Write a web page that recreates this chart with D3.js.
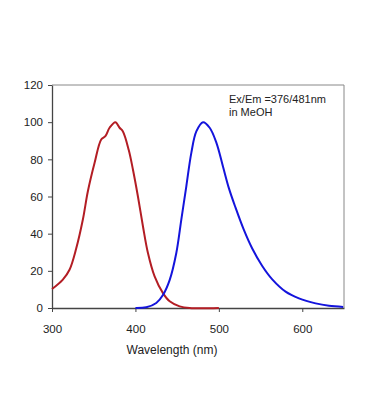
<!DOCTYPE html>
<html>
<head>
<meta charset="utf-8">
<script src="https://cdn.jsdelivr.net/npm/d3@7"></script>
<style>
  body { margin: 0; background: #fff; }
  text { font-family: "Liberation Sans", Arial, sans-serif; fill: #222; }
</style>
</head>
<body>
<svg id="chart"></svg>
<script>
// excitation spectrum (red)
const exWl  = [300, 313, 321, 329, 337, 343, 351, 359, 364, 369, 376, 381, 385, 392, 397, 403, 409, 415, 423, 433, 441, 453, 465, 500];
const exVal = [10.2, 15.3, 20.6, 32, 47.6, 62.8, 78, 90.7, 92.5, 97, 100, 97, 95, 85, 74.5, 60, 44, 29.6, 17, 8, 3.6, 0.9, 0, 0];
// emission spectrum (blue)
const emWl  = [400, 413, 425, 433, 441, 449, 455, 461, 467, 473, 481, 489, 497, 505, 512, 520, 530, 540, 552, 564, 580, 596, 616, 632, 649];
const emVal = [0, 0.4, 2.7, 7, 15, 29.6, 47.6, 65.5, 83.5, 95, 100, 97, 89, 76, 64.5, 54, 42, 32, 22.6, 15.4, 8.8, 5.2, 2.5, 1.2, 0.6];
const xTicks = [300, 400, 500, 600];
const yTicks = [0, 20, 40, 60, 80, 100, 120];
const note = ["Ex/Em =376/481nm", "in MeOH"];

const W = 370, H = 419;
const svg = d3.select("#chart").attr("width", W).attr("height", H);

const x = d3.scaleLinear().domain([300, 650]).range([52, 344]);
const y = d3.scaleLinear().domain([0, 120]).range([308, 85]);

// plot frame (top/right)
svg.append("path")
  .attr("d", `M${x(300)},${y(120)} H${x(650)} V${y(0)}`)
  .attr("fill", "none").attr("stroke", "#888").attr("stroke-width", 1);

const xAxis = svg.append("g").attr("transform", `translate(0,${y(0)})`)
  .call(d3.axisBottom(x).tickValues(xTicks).tickSize(4).tickSizeOuter(0));
const yAxis = svg.append("g").attr("transform", `translate(${x(300)},0)`)
  .call(d3.axisLeft(y).tickValues(yTicks).tickSize(4).tickSizeOuter(0));

[xAxis, yAxis].forEach(g => {
  g.select(".domain").attr("stroke", "#444").attr("stroke-width", 1.3);
  g.selectAll(".tick line").attr("stroke", "#444");
  g.selectAll(".tick text").style("font-size", "11.5px").attr("fill", "#222");
});
xAxis.selectAll(".tick text").attr("dy", "1.6em");
yAxis.selectAll(".tick text").attr("dx", "-2");

svg.append("text")
  .attr("x", 172).attr("y", 354)
  .attr("text-anchor", "middle")
  .style("font-size", "12px")
  .text("Wavelength (nm)");

const line = d3.line()
  .x(d => x(d[0])).y(d => y(d[1]))
  .curve(d3.curveCatmullRom.alpha(0.5));

svg.append("path")
  .datum(d3.zip(exWl, exVal))
  .attr("d", line)
  .attr("fill", "none").attr("stroke", "#b31d24").attr("stroke-width", 2);

svg.append("path")
  .datum(d3.zip(emWl, emVal))
  .attr("d", line)
  .attr("fill", "none").attr("stroke", "#1414dc").attr("stroke-width", 2);

svg.selectAll(".note")
  .data(note)
  .enter().append("text")
  .attr("class", "note")
  .attr("x", 229)
  .attr("y", (d, i) => 103 + i * 13)
  .style("font-size", "11px")
  .text(d => d);
</script>
</body>
</html>
